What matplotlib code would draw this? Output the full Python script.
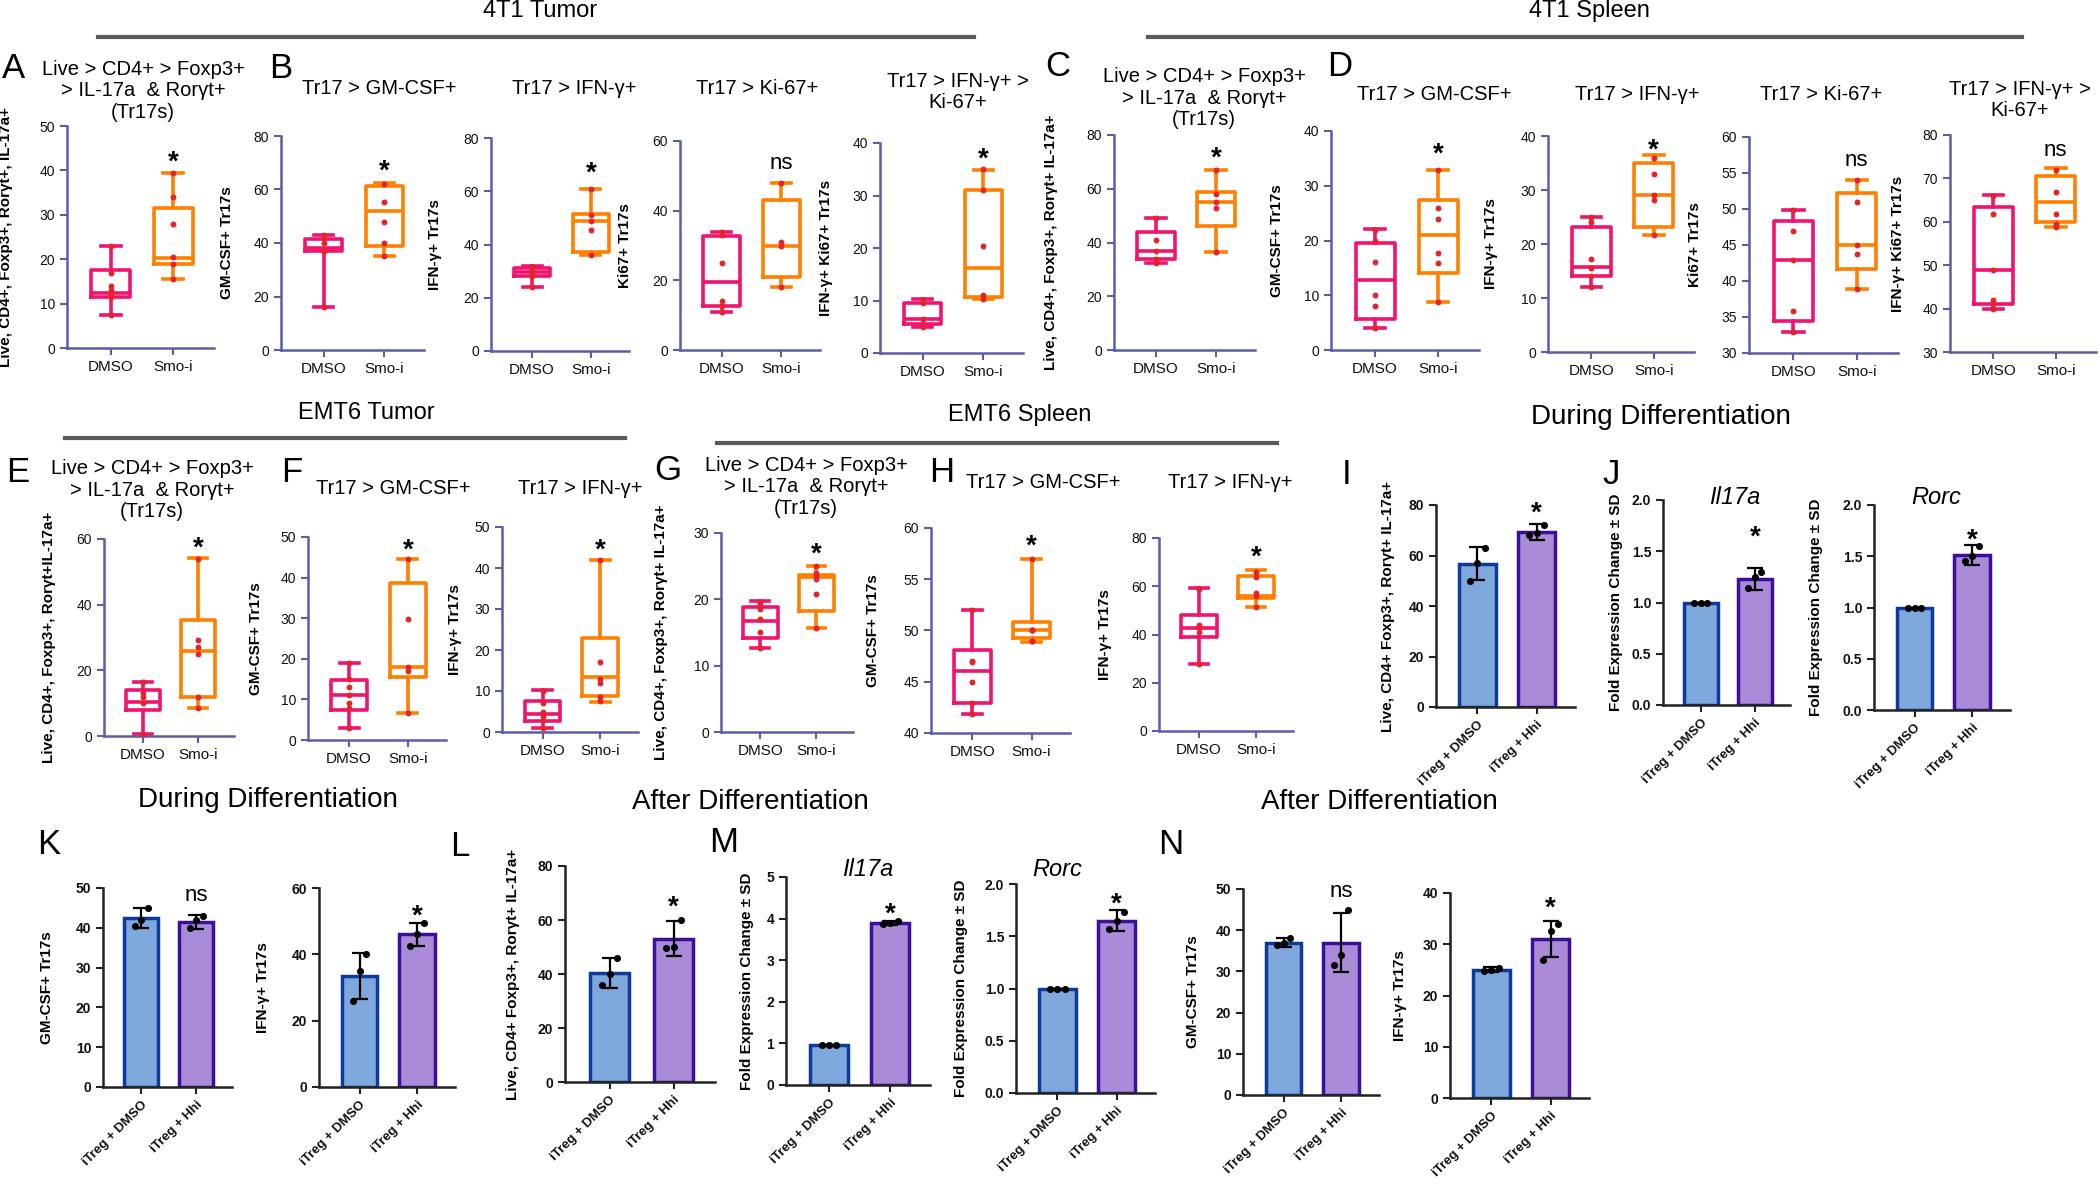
import numpy as np
import matplotlib
matplotlib.use("Agg")
import matplotlib.pyplot as plt
from matplotlib.lines import Line2D

plt.rcParams['font.family'] = ['Liberation Sans', 'DejaVu Sans']

# ---------------- data ----------------
box_groups = ["DMSO", "Smo-i"]
bar_groups = ["iTreg + DMSO", "iTreg + Hhi"]

# box stats: whisker low, Q1, median, Q3, whisker high
a_dmso = [7.5, 11.5, 12.5, 17.5, 23]
a_smoi = [15.5, 19, 20.2, 31.5, 39.5]
a_dmso_pts = [7.5, 11.5, 12, 13, 14, 17, 23]
a_smoi_pts = [15.5, 19, 20.5, 28, 34, 39.5]

b1_dmso = [16, 37, 38, 41.5, 43]
b1_smoi = [35, 39, 52, 61.4, 62.6]
b1_dmso_pts = [16, 37, 40, 42, 43]
b1_smoi_pts = [35, 40, 48, 55.5, 62]

b2_dmso = [24, 28, 29.8, 31.3, 31.8]
b2_smoi = [36, 37.3, 49, 51.3, 61]
b2_dmso_pts = [24, 28, 29, 30, 31.5]
b2_smoi_pts = [36, 45.6, 49, 51, 61]

b3_dmso = [11, 12.5, 19.5, 32.7, 34]
b3_smoi = [18, 21, 30, 43.2, 48]
b3_dmso_pts = [11, 12.5, 14, 25, 33, 34]
b3_smoi_pts = [18, 30, 31, 48]

b4_dmso = [5, 5.5, 6.5, 9.5, 10.2]
b4_smoi = [10.2, 10.6, 16.2, 31.1, 34.9]
b4_dmso_pts = [5, 6.5, 9.5, 10]
b4_smoi_pts = [10.2, 11, 20.3, 31, 35]

c_dmso = [32.3, 34, 37, 43.8, 49]
c_smoi = [36.6, 46.2, 55.2, 58.7, 67]
c_dmso_pts = [32.3, 34, 37, 41, 49]
c_smoi_pts = [36.6, 52.7, 55, 58, 67]

d1_dmso = [4, 5.6, 12.8, 19.6, 22.1]
d1_smoi = [8.8, 14.1, 21, 27.4, 32.9]
d1_dmso_pts = [4, 8, 10, 16, 20, 22]
d1_smoi_pts = [8.8, 15.9, 17.7, 24, 25.9, 32.9]

d2_dmso = [12, 14, 15.7, 23.1, 25]
d2_smoi = [21.7, 23.1, 29.1, 35, 36.4]
d2_dmso_pts = [12, 14, 15.5, 17.3, 24, 25]
d2_smoi_pts = [21.7, 28.1, 29, 33, 36]

d3_dmso = [32.9, 34.4, 42.9, 48.3, 49.8]
d3_smoi = [38.9, 41.6, 45, 52.2, 54]
d3_dmso_pts = [32.9, 35.8, 42.9, 46.9, 49.8]
d3_smoi_pts = [38.9, 43.8, 45, 51, 54]

d4_dmso = [40, 41, 48.8, 63.5, 66.2]
d4_smoi = [58.8, 60, 64.6, 70.5, 72.3]
d4_dmso_pts = [40, 41, 42, 48.8, 61.9, 66]
d4_smoi_pts = [58.8, 59.5, 61.9, 66.9, 72]

e_dmso = [0.5, 7.9, 10.5, 14, 16.5]
e_smoi = [8.6, 12, 25.9, 35.4, 54.2]
e_dmso_pts = [0.5, 10, 12, 13, 16.5]
e_smoi_pts = [8.6, 12, 24.9, 27, 29.3, 54]

f1_dmso = [2.9, 7.5, 11, 14.8, 18.9]
f1_smoi = [6.7, 15.4, 18, 38.7, 44.7]
f1_dmso_pts = [2.9, 8, 9, 11, 13.1, 15, 18.9]
f1_smoi_pts = [6.7, 17, 18, 29.8, 44.7]

f2_dmso = [1, 2.8, 4.5, 7.6, 10.2]
f2_smoi = [7.3, 8.9, 13.3, 23, 42]
f2_dmso_pts = [1, 3, 4, 5, 7, 10]
f2_smoi_pts = [7.5, 8.5, 12, 13, 17.1, 42]

g_dmso = [12.7, 14.1, 16.8, 18.9, 19.8]
g_smoi = [15.7, 18.3, 23.3, 23.6, 25.1]
g_dmso_pts = [12.7, 15.1, 17, 18.5, 19.5]
g_smoi_pts = [15.7, 20.8, 23, 23.5, 24, 25]

h1_dmso = [41.9, 42.9, 46, 48.1, 52]
h1_smoi = [48.9, 49.3, 50, 50.8, 57]
h1_dmso_pts = [41.9, 42.9, 45, 46.9, 47, 52]
h1_smoi_pts = [49, 49, 50, 50, 50, 57]

h2_dmso = [27.8, 38.9, 42.6, 47.9, 59.2]
h2_smoi = [51.3, 55.1, 56, 64.4, 66.9]
h2_dmso_pts = [27.8, 41.2, 43, 44, 59]
h2_smoi_pts = [51.3, 56, 57, 64, 66]

# bar panels: mean, SD and replicate points (DMSO, Hhi)
i_mean, i_sd = [56.8, 69.3], [6.5, 3.0]
i_dmso_pts, i_hhi_pts = [50, 57, 63], [68, 69, 72]
j1_mean, j1_sd = [1.0, 1.23], [0.0, 0.11]
j1_dmso_pts, j1_hhi_pts = [1.0, 1.0, 1.0], [1.14, 1.25, 1.3]
j2_mean, j2_sd = [1.0, 1.51], [0.0, 0.1]
j2_dmso_pts, j2_hhi_pts = [1.0, 1.0, 1.0], [1.45, 1.5, 1.6]
k1_mean, k1_sd = [42.5, 41.5], [2.5, 1.8]
k1_dmso_pts, k1_hhi_pts = [40.5, 42, 45], [40, 42, 43]
k2_mean, k2_sd = [33.5, 46.0], [7.0, 3.5]
k2_dmso_pts, k2_hhi_pts = [26, 35, 40], [42.5, 46, 49.5]
l_mean, l_sd = [40.5, 53.0], [5.5, 6.5]
l_dmso_pts, l_hhi_pts = [36, 40, 46], [49.5, 50, 60]
m1_mean, m1_sd = [0.95, 3.9], [0.0, 0.05]
m1_dmso_pts, m1_hhi_pts = [0.95, 0.95, 0.95], [3.88, 3.9, 3.95]
m2_mean, m2_sd = [1.0, 1.65], [0.0, 0.1]
m2_dmso_pts, m2_hhi_pts = [1.0, 1.0, 1.0], [1.57, 1.65, 1.73]
n1_mean, n1_sd = [37.0, 37.0], [1.0, 7.2]
n1_dmso_pts, n1_hhi_pts = [36.3, 37, 38], [31.5, 34, 45]
n2_mean, n2_sd = [25.0, 31.0], [0.5, 3.5]
n2_dmso_pts, n2_hhi_pts = [24.8, 25, 25.4], [27, 32.5, 34]

# ---------------- figure ----------------
W, H = 2100, 1187
fig = plt.figure(figsize=(W / 100, H / 100), dpi=100)

AX_BOX = '#5b5ea6'
AX_BAR = '#222222'
PINK = '#f0146e'
ORANGE = '#ff8000'
DOT = '#e3242b'
BLUE_FILL, BLUE_EDGE = '#7ea7dc', '#0d3b9c'
PURP_FILL, PURP_EDGE = '#a98bd8', '#3b0f98'


def px_axes(pos):
    x0, x1, ytop, ybot = pos
    return fig.add_axes([x0 / W, 1 - ybot / H, (x1 - x0) / W, (ybot - ytop) / H])


def fig_text(x, y, s, **kw):
    fig.text(x / W, 1 - y / H, s, ha='center', va='center', **kw)


def section(x, y, s, line=None, size=17):
    fig_text(x, y, s, fontsize=size)
    if line:
        lx0, lx1, ly = line
        fig.add_artist(Line2D([lx0 / W, lx1 / W], [1 - ly / H] * 2,
                              transform=fig.transFigure, color='#5a5a5a', lw=3))


def frame(ax, pos, ylim, step, color, ylabel, lab_dx, fmt, bold):
    ax.set_xlim(0.3, 2.65)
    ax.set_ylim(*ylim)
    ticks = np.arange(ylim[0], ylim[1] + step / 2, step)
    ax.set_yticks(ticks, [fmt.format(t) for t in ticks],
                  fontsize=10, fontweight='bold' if bold else 'normal')
    for s in ('top', 'right'):
        ax.spines[s].set_visible(False)
    for s in ('left', 'bottom'):
        ax.spines[s].set_color(color)
        ax.spines[s].set_linewidth(1.8)
    ax.tick_params(colors=color, labelcolor='#111111', width=1.5, length=5)
    ax.set_ylabel(ylabel, fontsize=11, fontweight='bold')
    ax.yaxis.set_label_coords(-lab_dx / (pos[1] - pos[0]), 0.5)


def mark(ax, y, s):
    if s == '*':
        ax.annotate('*', (2, y), xytext=(0, -6), textcoords='offset points',
                    ha='center', va='center', fontsize=20, fontweight='bold')
    else:
        ax.text(2, y, s, ha='center', va='center', fontsize=16)


def box_panel(pos, ylim, step, ylabel, lab_dx, dmso, smoi, dmso_pts, smoi_pts, sig, sig_y):
    ax = px_axes(pos)
    for i, (st, pts, col) in enumerate([(dmso, dmso_pts, PINK), (smoi, smoi_pts, ORANGE)]):
        lo, q1, med, q3, hi = st
        props = dict(color=col, linewidth=2.6)
        ax.bxp([dict(whislo=lo, q1=q1, med=med, q3=q3, whishi=hi, fliers=[])],
               positions=[i + 1], widths=0.62, capwidths=0.32, showfliers=False,
               boxprops=props, whiskerprops=props, capprops=props, medianprops=props,
               manage_ticks=False)
        ax.scatter([i + 1] * len(pts), pts, s=18, color=DOT, zorder=3, linewidths=0, clip_on=False)
    ax.set_xticks([1, 2], box_groups, fontsize=11)
    frame(ax, pos, ylim, step, AX_BOX, ylabel, lab_dx, '{:.0f}', False)
    mark(ax, sig_y, sig)
    return ax


def bar_panel(pos, ylim, step, ylabel, lab_dx, means, sds, dmso_pts, hhi_pts, sig, sig_y, fmt='{:.0f}'):
    ax = px_axes(pos)
    ax.bar([1, 2], means, width=0.62, color=[BLUE_FILL, PURP_FILL],
           edgecolor=[BLUE_EDGE, PURP_EDGE], linewidth=2.5, zorder=2)
    ax.errorbar([1, 2], means, yerr=sds, fmt='none', ecolor='black', elinewidth=1.6,
                capsize=6, capthick=1.6, zorder=3)
    offs = np.array([-0.12, 0.0, 0.12])
    ax.scatter(1 + offs, dmso_pts, s=26, color='black', zorder=4, linewidths=0)
    ax.scatter(2 + offs, hhi_pts, s=26, color='black', zorder=4, linewidths=0)
    ax.set_xticks([1, 2], bar_groups, rotation=45, ha='right', rotation_mode='anchor',
                  fontsize=9.5, fontweight='bold')
    frame(ax, pos, ylim, step, AX_BAR, ylabel, lab_dx, fmt, True)
    mark(ax, sig_y, sig)
    return ax


LIVE = "Live, CD4+, Foxp3+, Rorγt+, IL-17a+"
LIVE_BAR = "Live, CD4+ Foxp3+, Rorγt+ IL-17a+"
FOLD = "Fold Expression Change ± SD"
TR17_TITLE = "Live > CD4+ > Foxp3+\n> IL-17a  & Rorγt+\n(Tr17s)"

# ---- section headers
section(540, 11, "4T1 Tumor", (98, 974, 37))
section(1589, 11, "4T1 Spleen", (1148, 2022, 37))
section(366, 413, "EMT6 Tumor", (65, 625, 438))
section(1020, 415, "EMT6 Spleen", (717, 1277, 443))
section(1661, 417, "During Differentiation", size=20)
section(268, 800, "During Differentiation", size=20)
section(750, 802, "After Differentiation", size=20)
section(1379, 802, "After Differentiation", size=20)

# ---- panel letters
for letter, (x, y) in {"A": (13, 68), "B": (281, 68), "C": (1058, 67), "D": (1340, 67),
                       "E": (18, 472), "F": (292, 473), "G": (668, 470), "H": (942, 473),
                       "I": (1347, 475), "J": (1611, 475), "K": (49, 845), "L": (460, 847),
                       "M": (724, 842), "N": (1171, 845)}.items():
    fig_text(x, y, letter, fontsize=25)

# ---- panel titles
for s, (x, y) in [(TR17_TITLE, (143, 91)), ("Tr17 > GM-CSF+", (379, 88)),
                  ("Tr17 > IFN-γ+", (574, 88)), ("Tr17 > Ki-67+", (757, 88)),
                  ("Tr17 > IFN-γ+ >\nKi-67+", (958, 92)), (TR17_TITLE, (1204, 98)),
                  ("Tr17 > GM-CSF+", (1434, 95)), ("Tr17 > IFN-γ+", (1637, 95)),
                  ("Tr17 > Ki-67+", (1821, 95)), ("Tr17 > IFN-γ+ >\nKi-67+", (2020, 100)),
                  (TR17_TITLE, (152, 490)), ("Tr17 > GM-CSF+", (393, 488)),
                  ("Tr17 > IFN-γ+", (580, 488)), (TR17_TITLE, (806, 487)),
                  ("Tr17 > GM-CSF+", (1043, 483)), ("Tr17 > IFN-γ+", (1230, 483))]:
    fig_text(x, y, s, fontsize=14.5, linespacing=1.15)
for s, (x, y) in [("Il17a", (1735, 498)), ("Rorc", (1936, 498)),
                  ("Il17a", (868, 870)), ("Rorc", (1057, 870))]:
    fig_text(x, y, s, fontsize=17, style='italic')

# ---- row 1 (4T1)
box_panel((67, 214, 126, 348), (0, 50), 10, LIVE, 54, a_dmso, a_smoi, a_dmso_pts, a_smoi_pts, '*', 43.6)
box_panel((281, 424, 136, 350), (0, 80), 20, "GM-CSF+ Tr17s", 47, b1_dmso, b1_smoi, b1_dmso_pts, b1_smoi_pts, '*', 69.8)
box_panel((491, 629, 138, 351), (0, 80), 20, "IFN-γ+ Tr17s", 49, b2_dmso, b2_smoi, b2_dmso_pts, b2_smoi_pts, '*', 69.8)
box_panel((680, 820, 141, 350), (0, 60), 20, "Ki67+ Tr17s", 48, b3_dmso, b3_smoi, b3_dmso_pts, b3_smoi_pts, 'ns', 53.6)
box_panel((880, 1023, 143, 353), (0, 40), 10, "IFN-γ+ Ki67+ Tr17s", 47, b4_dmso, b4_smoi, b4_dmso_pts, b4_smoi_pts, '*', 38.4)
box_panel((1114, 1255, 135, 350), (0, 80), 20, "Live, CD4+, Foxp3+, Rorγt+ IL-17a+", 56, c_dmso, c_smoi, c_dmso_pts, c_smoi_pts, '*', 74.4)
box_panel((1331, 1479, 131, 350), (0, 40), 10, "GM-CSF+ Tr17s", 47, d1_dmso, d1_smoi, d1_dmso_pts, d1_smoi_pts, '*', 37.2)
box_panel((1548, 1694, 136, 352), (0, 40), 10, "IFN-γ+ Tr17s", 50, d2_dmso, d2_smoi, d2_dmso_pts, d2_smoi_pts, '*', 38.9)
box_panel((1749, 1898, 137, 353), (30, 60), 5, "Ki67+ Tr17s", 47, d3_dmso, d3_smoi, d3_dmso_pts, d3_smoi_pts, 'ns', 56.8)
box_panel((1950, 2096, 135, 352), (30, 80), 10, "IFN-γ+ Ki67+ Tr17s", 45, d4_dmso, d4_smoi, d4_dmso_pts, d4_smoi_pts, 'ns', 76.5)

# ---- row 2 (EMT6 + during differentiation)
box_panel((104, 234, 539, 736), (0, 60), 20, "Live, CD4+, Foxp3+, Rorγt+IL-17a+", 48, e_dmso, e_smoi, e_dmso_pts, e_smoi_pts, '*', 59.5)
box_panel((308, 446, 537, 740), (0, 50), 10, "GM-CSF+ Tr17s", 45, f1_dmso, f1_smoi, f1_dmso_pts, f1_smoi_pts, '*', 48.8)
box_panel((502, 638, 527, 732), (0, 50), 10, "IFN-γ+ Tr17s", 40, f2_dmso, f2_smoi, f2_dmso_pts, f2_smoi_pts, '*', 46.3)
box_panel((721, 853, 533, 732), (0, 30), 10, "Live, CD4+, Foxp3+, Rorγt+ IL-17a+", 53, g_dmso, g_smoi, g_dmso_pts, g_smoi_pts, '*', 28)
box_panel((931, 1070, 528, 733), (40, 60), 5, "GM-CSF+ Tr17s", 51, h1_dmso, h1_smoi, h1_dmso_pts, h1_smoi_pts, '*', 59)
box_panel((1159, 1293, 538, 731), (0, 80), 20, "IFN-γ+ Tr17s", 47, h2_dmso, h2_smoi, h2_dmso_pts, h2_smoi_pts, '*', 75.2)

bar_panel((1436, 1575, 505, 707), (0, 80), 20, LIVE_BAR, 41, i_mean, i_sd, i_dmso_pts, i_hhi_pts, '*', 80)
bar_panel((1663, 1790, 500, 705), (0, 2), 0.5, FOLD, 40, j1_mean, j1_sd, j1_dmso_pts, j1_hhi_pts, '*', 1.71, '{:.1f}')
bar_panel((1874, 2010, 505, 710), (0, 2), 0.5, FOLD, 51, j2_mean, j2_sd, j2_dmso_pts, j2_hhi_pts, '*', 1.73, '{:.1f}')

# ---- row 3 (during / after differentiation)
bar_panel((103, 232, 888, 1087), (0, 50), 10, "GM-CSF+ Tr17s", 49, k1_mean, k1_sd, k1_dmso_pts, k1_hhi_pts, 'ns', 48)
bar_panel((319, 455, 888, 1087), (0, 60), 20, "IFN-γ+ Tr17s", 49, k2_mean, k2_sd, k2_dmso_pts, k2_hhi_pts, '*', 54)
bar_panel((565, 715, 866, 1082), (0, 80), 20, LIVE_BAR, 45, l_mean, l_sd, l_dmso_pts, l_hhi_pts, '*', 67.5)
bar_panel((786, 930, 877, 1085), (0, 5), 1, FOLD, 32, m1_mean, m1_sd, m1_dmso_pts, m1_hhi_pts, '*', 4.3)
bar_panel((1016, 1155, 884, 1093), (0, 2), 0.5, FOLD, 48, m2_mean, m2_sd, m2_dmso_pts, m2_hhi_pts, '*', 1.88, '{:.1f}')
bar_panel((1243, 1379, 889, 1095), (0, 50), 10, "GM-CSF+ Tr17s", 43, n1_mean, n1_sd, n1_dmso_pts, n1_hhi_pts, 'ns', 49.5)
bar_panel((1450, 1589, 893, 1098), (0, 40), 10, "IFN-γ+ Tr17s", 43, n2_mean, n2_sd, n2_dmso_pts, n2_hhi_pts, '*', 38.6)

fig.savefig("out.png", dpi=100)
plt.close(fig)
